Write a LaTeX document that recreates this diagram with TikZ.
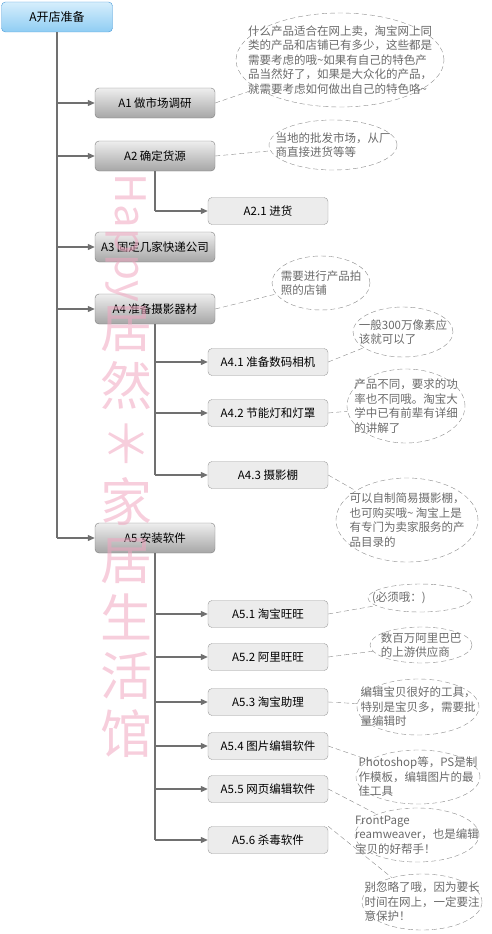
\documentclass[tikz,border=0pt]{standalone}
\usepackage{fontspec}
\setmainfont{Noto Sans CJK SC}
\usetikzlibrary{arrows.meta, shapes.geometric, positioning}

\definecolor{rootblue}{HTML}{4A9AD8}
\definecolor{roottop}{HTML}{D6EEFC}
\definecolor{rootbot}{HTML}{8FCDF3}
\definecolor{boxgray}{HTML}{7C7C7C}
\definecolor{boxtop}{HTML}{EEEEEE}
\definecolor{boxbot}{HTML}{A6A6A6}
\definecolor{subfill}{HTML}{ECECEC}
\definecolor{subgray}{HTML}{9A9A9A}
\definecolor{linegray}{HTML}{707070}
\definecolor{notegray}{HTML}{8A8A8A}
\definecolor{notetext}{HTML}{6A6A6A}
\definecolor{wmpink}{HTML}{F0A6C0}

\begin{document}
\begin{tikzpicture}[x=1pt,y=-1pt,>={Triangle[length=7pt,width=6pt]},
 root node/.style={draw=rootblue,rounded corners=4pt,top color=roottop,bottom color=rootbot,
   minimum width=111pt,minimum height=30pt,font=\fontsize{12}{14}\selectfont},
 main node/.style={draw=boxgray,rounded corners=4pt,top color=boxtop,bottom color=boxbot,
   minimum width=120pt,minimum height=30pt,font=\fontsize{11.5}{14}\selectfont},
 sub node/.style={draw=subgray,rounded corners=4pt,fill=subfill,
   minimum width=120pt,minimum height=27pt,font=\fontsize{11.5}{14}\selectfont},
 note/.style={ellipse,draw=notegray,dash pattern=on 5pt off 3pt,inner sep=0pt},
 note text/.style={align=left,text=notetext,inner sep=0pt,font=\fontsize{11.5}{14.5}\selectfont},
 link/.style={draw=notegray,dash pattern=on 5pt off 3pt},
 trunk/.style={draw=linegray,line width=1.8pt},
 branch/.style={draw=linegray,line width=1.1pt,->,>={Triangle[length=7pt,width=6pt]},fill=linegray},
 wm text/.style={text=wmpink,opacity=0.55,inner sep=0pt}]

  \useasboundingbox (0,0) rectangle (492,934);

  % boxes
  \node[root node] (a) at (57,17) {A开店准备};
  \node[main node] (a1) at (155,103) {A1 做市场调研};
  \node[main node] (a2) at (155,156) {A2 确定货源};
  \node[sub node] (a21) at (268,211) {A2.1 进货};
  \node[main node] (a3) at (155,247) {A3 固定几家快递公司};
  \node[main node] (a4) at (155,309) {A4 准备摄影器材};
  \node[sub node] (a41) at (268,362) {A4.1 准备数码相机};
  \node[sub node] (a42) at (268,413) {A4.2 节能灯和灯罩};
  \node[sub node] (a43) at (268,475) {A4.3 摄影棚};
  \node[main node] (a5) at (155,538) {A5 安装软件};
  \node[sub node] (a51) at (268,614) {A5.1 淘宝旺旺};
  \node[sub node] (a52) at (268,657) {A5.2 阿里旺旺};
  \node[sub node] (a53) at (268,702) {A5.3 淘宝助理};
  \node[sub node] (a54) at (268,746) {A5.4 图片编辑软件};
  \node[sub node] (a55) at (268,789) {A5.5 网页编辑软件};
  \node[sub node] (a56) at (268,840) {A5.6 杀毒软件};

  % tree lines
  \draw[trunk] (a.south) -- (a.south |- a5);
  \foreach \t in {a1,a2,a3,a4,a5} {
   \draw[branch] (a.south |- \t) -- (\t.west);}
  \draw[trunk] (a2.south) -- (a2.south |- a21);
  \draw[branch] (a2.south |- a21) -- (a21.west);
  \draw[trunk] (a4.south) -- (a4.south |- a43);
  \foreach \t in {a41,a42,a43} {
   \draw[branch] (a4.south |- \t) -- (\t.west);}
  \draw[trunk] (a5.south) -- (a5.south |- a56);
  \foreach \t in {a51,a52,a53,a54,a55,a56} {
   \draw[branch] (a5.south |- \t) -- (\t.west);}

  % notes
  \node[note,minimum width=208pt,minimum height=94pt] (n1) at (340,60) {};
  \node[note text] (n1t) at (n1) {什么产品适合在网上卖，淘宝网上同\\类的产品和店铺已有多少，这些都是\\需要考虑的哦\textasciitilde{}如果有自己的特色产\\品当然好了，如果是大众化的产品，\\就需要考虑如何做出自己的特色咯\textasciitilde};
  \node[note,minimum width=128pt,minimum height=50pt] (n2) at (333,145) {};
  \node[note text] (n2t) at (n2) {当地的批发市场，从厂\\商直接进货等等};
  \node[note,minimum width=98pt,minimum height=54pt] (n3) at (321,283) {};
  \node[note text] (n3t) at (n3) {需要进行产品拍\\照的店铺};
  \node[note,minimum width=100pt,minimum height=50pt] (n4) at (403,332) {};
  \node[note text] (n4t) at (n4) {一般300万像素应\\该就可以了};
  \node[note,minimum width=118pt,minimum height=74pt] (n5) at (406,406) {};
  \node[note text] (n5t) at (n5) {产品不同，要求的功\\率也不同哦。淘宝大\\学中已有前辈有详细\\的讲解了};
  \node[note,minimum width=142pt,minimum height=84pt] (n6) at (407,520) {};
  \node[note text] (n6t) at (n6) {可以自制简易摄影棚，\\也可购买哦\textasciitilde{} 淘宝上是\\有专门为卖家服务的产\\品目录的};
  \node[note,minimum width=104pt,minimum height=28pt] (n7) at (420,598) {};
  \node[note text,right=4pt of n7.west] (n7t) {(必须哦：)};
  \node[note,minimum width=102pt,minimum height=36pt] (n8) at (421,645) {};
  \node[note text] (n8t) at (n8) {数百万阿里巴巴\\的上游供应商};
  \node[note,minimum width=122pt,minimum height=56pt] (n9) at (418,707) {};
  \node[note text] (n9t) at (n9) {编辑宝贝很好的工具，\\特别是宝贝多，需要批\\量编辑时};
  \node[note,minimum width=124pt,minimum height=54pt] (n10) at (418,777) {};
  \node[note text] (n10t) at (n10) {Photoshop等，PS是制\\作模板，编辑图片的最\\佳工具};
  \node[note,minimum width=124pt,minimum height=54pt] (n11) at (417,835) {};
  \node[note text] (n11t) at (n11) {FrontPage\\reamweaver，也是编辑\\宝贝的好帮手！};
  \node[note,minimum width=120pt,minimum height=56pt] (n12) at (422,902) {};
  \node[note text] (n12t) at (n12) {别忽略了哦，因为要长\\时间在网上，一定要注\\意保护！};

  \foreach \s/\t in {a1/n1, a2/n2, a4/n3, a41/n4, a42/n5, a43/n6, a51/n7, a52/n8, a53/n9, a54/n10, a55/n11} {
   \draw[link] (\s.east) -- (\t);}
  \draw[link] (a56.north east) -- (n12);

  % watermark
  \node[wm text,rotate=-90,font=\fontsize{42}{42}\selectfont] (wm1) at (126,238) {Happy};
  \node[wm text,align=center,font=\fontsize{52}{58}\selectfont] (wm2) at (126,532) {居\\然\\＊\\家\\居\\生\\活\\馆};
\end{tikzpicture}
\end{document}
